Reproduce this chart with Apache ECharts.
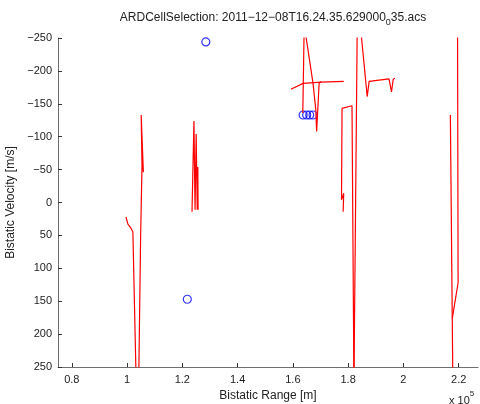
<!DOCTYPE html>
<html>
<head>
<meta charset="utf-8">
<script src="https://cdn.jsdelivr.net/npm/echarts@6/dist/echarts.min.js"></script>
<style>
html,body{margin:0;padding:0;background:#fff;}
#chart{width:480px;height:404px;}
</style>
</head>
<body>
<div id="chart"></div>
<script>
// Track segments (Bistatic Range [m], Bistatic Velocity [m/s])
const rangeA = [99600, 100300, 101000, 101400, 102100, 103300, 104200, 104900, 105400, 105400, 105100, 105900, 105600];
const velA   = [22, 33, 36, 39, 45, 275, 275, 52, 49, -57, -133, -46, -62];

const rangeB = [123500, 124200, 124600, 125200, 125000, 125400, 125600, 125700];
const velB   = [14, -124, 11, 11, -104, 11, -54, 11];

const rangeC = [163600, 164100, 164400, 167300, 168300, 168600, 169500, 170200];
const velC   = [-136, -270, -270, -181, -141, -108, -181, -184];

const rangeC2 = [159300, 163700, 170300, 178400];
const velC2   = [-172, -181, -183, -184];

const rangeD = [182100, 181400, 177800, 177600, 178200, 178400, 178200];
const velD   = [275, -147, -143, -4, -4, -14, 14];

const rangeE = [182100, 183300, 184400, 186900, 187600, 194800, 195700, 196300, 196900];
const velE   = [275, -270, -270, -161, -184, -188, -168, -187, -189];

const rangeF1 = [217000, 217600, 217900];
const velF1   = [-133, -133, 275];

const rangeF2 = [217700, 218100, 219800, 219600];
const velF2   = [176, 176, 122, -270];

// Selected cells (blue circles)
const cellRange = [128500, 121800, 163700, 165000, 166100, 167300];
const cellVel   = [-244, 147, -133, -133, -133, -133];

// Tick values
const xTicks = [80000, 100000, 120000, 140000, 160000, 180000, 200000, 220000];

const zip = (a, b) => a.map((v, i) => [v, b[i]]);
const tracks = [[rangeA, velA], [rangeB, velB], [rangeC, velC], [rangeC2, velC2],
                [rangeD, velD], [rangeE, velE], [rangeF1, velF1], [rangeF2, velF2]];

const font = '"Liberation Sans", Arial, Helvetica, sans-serif';
const axisColor = '#6e6e6e';

const series = tracks.map(t => ({
  type: 'line',
  data: zip(t[0], t[1]),
  showSymbol: false,
  symbol: 'none',
  clip: true,
  lineStyle: { color: '#ff0000', width: 1.2 },
  animation: false
}));
series.push({
  type: 'scatter',
  data: zip(cellRange, cellVel),
  symbol: 'circle',
  symbolSize: 8,
  clip: false,
  itemStyle: { color: 'rgba(0,0,0,0)', borderColor: '#0000ff', borderWidth: 1.2 },
  animation: false
});

const chart = echarts.init(document.getElementById('chart'));
chart.setOption({
  animation: false,
  backgroundColor: '#ffffff',
  textStyle: { fontFamily: font },
  title: {
    text: '{a|ARDCellSelection: 2011\u221212\u221208T16.24.35.629000}{s|0}{a|35.acs}',
    left: 268,
    textAlign: 'center',
    top: 7,
    textStyle: {
      fontWeight: 'normal',
      rich: {
        a: { fontFamily: font, fontSize: 12, fontWeight: 'normal', color: '#222', lineHeight: 16, verticalAlign: 'top' },
        s: { fontFamily: font, fontSize: 9, fontWeight: 'normal', color: '#222', lineHeight: 16, verticalAlign: 'top', padding: [6, 0, 0, 0] }
      }
    }
  },
  grid: { left: 58, top: 38, right: 2, bottom: 37, containLabel: false, outerBoundsMode: 'none' },
  xAxis: {
    type: 'value',
    min: 75000,
    max: 227000,
    name: 'Bistatic Range [m]',
    nameLocation: 'middle',
    nameGap: 21,
    nameTextStyle: { fontFamily: font, fontSize: 12, color: '#222' },
    axisLine: { show: true, onZero: false, lineStyle: { color: axisColor, width: 1 } },
    axisTick: { show: true, inside: true, length: 4, customValues: xTicks, lineStyle: { color: '#333' } },
    axisLabel: {
      show: true, customValues: xTicks, fontFamily: font, fontSize: 11, color: '#222', margin: 7,
      formatter: v => String(+(v / 1e5).toFixed(1))
    },
    splitLine: { show: false }
  },
  yAxis: {
    type: 'value',
    inverse: true,
    min: -250,
    max: 250,
    interval: 50,
    name: 'Bistatic Velocity [m/s]',
    nameLocation: 'middle',
    nameGap: 32,
    nameRotate: 90,
    nameTextStyle: { fontFamily: font, fontSize: 12, color: '#222' },
    axisLine: { show: true, onZero: false, lineStyle: { color: axisColor, width: 1 } },
    axisTick: { show: true, inside: true, length: 4, lineStyle: { color: '#333' } },
    axisLabel: {
      fontFamily: font, fontSize: 11, color: '#222', margin: 6,
      formatter: v => (v < 0 ? '\u2212' + Math.abs(v) : String(v))
    },
    splitLine: { show: false }
  },
  graphic: [{
    type: 'text',
    left: 449,
    top: 390,
    style: {
      text: '{a|x 10}{s|5}',
      rich: {
        a: { fontFamily: font, fontSize: 11, fill: '#222', lineHeight: 16, verticalAlign: 'bottom', padding: [5, 0, 0, 0] },
        s: { fontFamily: font, fontSize: 8, fill: '#222', lineHeight: 16, verticalAlign: 'top' }
      }
    }
  }],
  series: series
});
</script>
</body>
</html>
